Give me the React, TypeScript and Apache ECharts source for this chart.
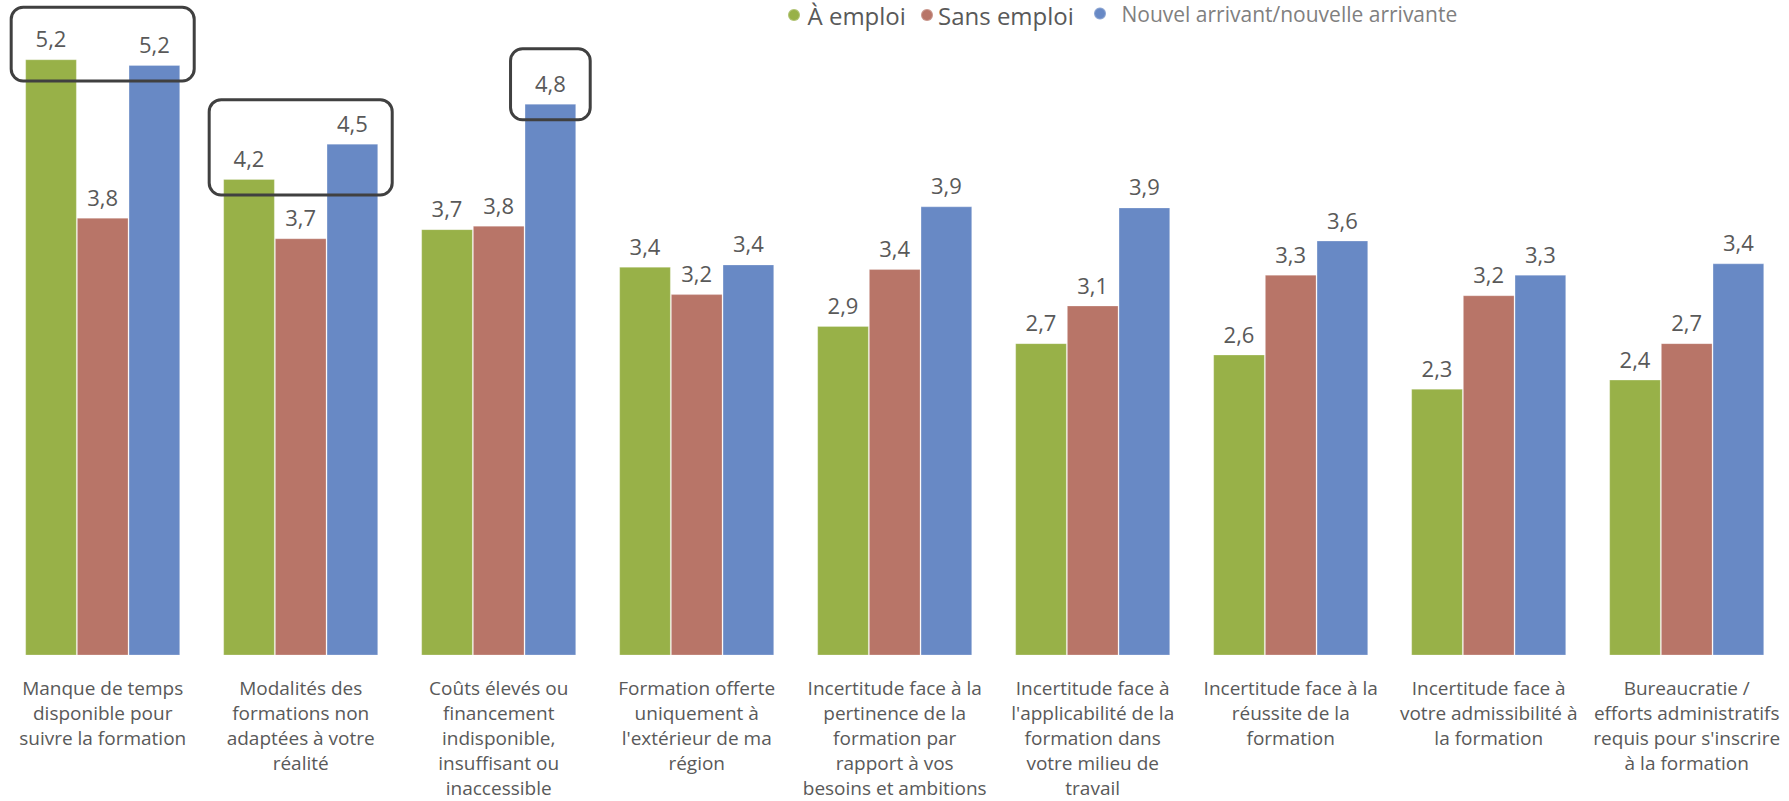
import React, { useEffect, useRef } from "react";
import * as echarts from "echarts";

const categories = [
  "Manque de temps\ndisponible pour\nsuivre la formation",
  "Modalités des\nformations non\nadaptées à votre\nréalité",
  "Coûts élevés ou\nfinancement\nindisponible,\ninsuffisant ou\ninaccessible",
  "Formation offerte\nuniquement à\nl'extérieur de ma\nrégion",
  "Incertitude face à la\npertinence de la\nformation par\nrapport à vos\nbesoins et ambitions",
  "Incertitude face à\nl'applicabilité de la\nformation dans\nvotre milieu de\ntravail",
  "Incertitude face à la\nréussite de la\nformation",
  "Incertitude face à\nvotre admissibilité à\nla formation",
  "Bureaucratie /\nefforts administratifs\nrequis pour s'inscrire\nà la formation",
];

const seriesNames = ["À emploi", "Sans emploi", "Nouvel arrivant/nouvelle arrivante"];

const emploi = [5.23, 4.18, 3.74, 3.41, 2.89, 2.74, 2.64, 2.34, 2.42];
const sansEmploi = [3.84, 3.66, 3.77, 3.17, 3.39, 3.07, 3.34, 3.16, 2.74];
const nouvelArrivant = [5.18, 4.49, 4.84, 3.43, 3.94, 3.93, 3.64, 3.34, 3.44];

// highlighted groups: category index, first and last series index inside the box
const highlights = [
  { category: 0, first: 0, last: 2, topPad: 52 },
  { category: 1, first: 0, last: 2, topPad: 44 },
  { category: 2, first: 2, last: 2, topPad: 55 },
];

const COLORS = ["#98B148", "#B87568", "#6889C5"];
const FONT = "'Segoe UI', 'Open Sans', sans-serif";
const CAT_GAP = 0.217;

export default function App() {
  const ref = useRef<HTMLDivElement>(null);

  useEffect(() => {
    document.body.style.margin = "0";
    if (!ref.current) return;
    const chart = echarts.init(ref.current, undefined, { renderer: "svg" });
    const allSeries = [emploi, sansEmploi, nouvelArrivant];

    const legendBase = {
      orient: "horizontal" as const,
      top: 3,
      padding: 0,
      icon: "circle",
      itemHeight: 12,
      selectedMode: false,
    };

    chart.setOption({
      animation: false,
      backgroundColor: "#ffffff",
      textStyle: { fontFamily: FONT },
      legend: [
        {
          ...legendBase,
          left: 787,
          itemWidth: 17,
          data: [seriesNames[0]],
          textStyle: { fontSize: 24, color: "#595959", fontFamily: FONT },
        },
        {
          ...legendBase,
          left: 920,
          itemWidth: 12,
          data: [seriesNames[1]],
          textStyle: { fontSize: 24, color: "#595959", fontFamily: FONT },
        },
        {
          ...legendBase,
          left: 1093,
          itemWidth: 33,
          data: [seriesNames[2]],
          textStyle: { fontSize: 21, color: "#808080", fontFamily: FONT },
        },
      ],
      grid: {
        left: 3.7,
        right: 3.3,
        top: 28.5,
        bottom: 145.5,
        containLabel: false,
        outerBoundsMode: "none",
      },
      xAxis: {
        type: "category",
        data: categories,
        axisLine: { show: false },
        axisTick: { show: false },
        splitLine: { show: false },
        axisLabel: {
          interval: 0,
          margin: 20,
          fontSize: 19,
          lineHeight: 25,
          color: "#595959",
          fontFamily: FONT,
          align: "center",
        },
      },
      yAxis: {
        type: "value",
        min: 0,
        max: 5.5,
        show: false,
        splitLine: { show: false },
      },
      series: allSeries.map((values, i) => ({
        name: seriesNames[i],
        type: "bar",
        data: values,
        barGap: "0%",
        barCategoryGap: CAT_GAP * 100 + "%",
        itemStyle: {
          color: COLORS[i],
          borderColor: "rgba(255,255,255,0.25)",
          borderWidth: 1,
        },
        label: {
          show: true,
          position: "top",
          distance: 10,
          fontSize: 22,
          color: "#595959",
          fontFamily: FONT,
          formatter: (p: any) => Number(p.value).toFixed(1).replace(".", ","),
        },
      })),
    });

    // annotation boxes placed through the chart's own scales
    const c0 = chart.convertToPixel({ xAxisIndex: 0 }, 0) as number;
    const c1 = chart.convertToPixel({ xAxisIndex: 0 }, 1) as number;
    const band = c1 - c0;
    const bw = (band * (1 - CAT_GAP)) / 3;
    const padX = 14;
    const graphics = highlights.map((h) => {
      const center = chart.convertToPixel({ xAxisIndex: 0 }, h.category) as number;
      const left = center - 1.5 * bw + h.first * bw - padX;
      const right = center - 1.5 * bw + (h.last + 1) * bw + padX;
      let maxV = -Infinity;
      for (let s = h.first; s <= h.last; s++) {
        maxV = Math.max(maxV, allSeries[s][h.category]);
      }
      const minEdge = Math.min(allSeries[h.first][h.category], allSeries[h.last][h.category]);
      const top = (chart.convertToPixel({ yAxisIndex: 0 }, maxV) as number) - h.topPad;
      const bottom = (chart.convertToPixel({ yAxisIndex: 0 }, minEdge) as number) + 16;
      return {
        type: "rect",
        z: 100,
        shape: { x: left, y: top, width: right - left, height: bottom - top, r: 12 },
        style: { fill: "none", stroke: "#404040", lineWidth: 3 },
        silent: true,
      };
    });
    chart.setOption({ graphic: graphics });

    return () => chart.dispose();
  }, []);

  return (
    <div
      ref={ref}
      style={{ position: "fixed", left: 0, top: 0, width: 1789, height: 801 }}
    />
  );
}
